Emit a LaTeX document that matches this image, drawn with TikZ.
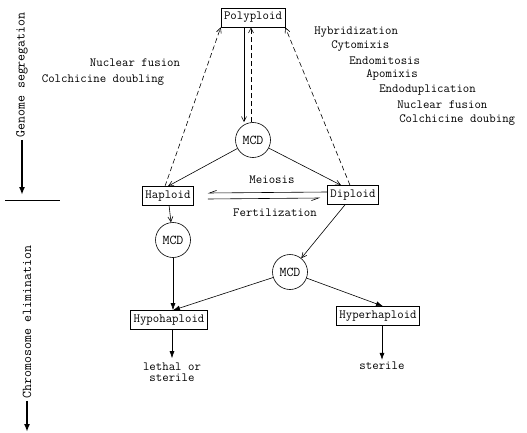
\documentclass[tikz,border=0pt]{standalone}
\usepackage{tikz}
\usetikzlibrary{arrows.meta}

\begin{document}
\begin{tikzpicture}[x=1pt,y=-1pt,semithick,
  every node/.style={inner sep=2pt,font=\ttfamily\fontsize{12.5}{14}\selectfont},
  box/.style={draw,inner xsep=3pt,minimum height=19pt},
  mcd/.style={draw,circle,inner sep=0pt,minimum size=35pt,font=\ttfamily\fontsize{13.5}{15}\selectfont},
  side/.style={font=\ttfamily\fontsize{13.5}{15}\selectfont},
  dashes/.style={dash pattern=on 5pt off 3pt},
  thin/.style={-{Straight Barb[length=5pt,width=5pt]}},
  solid/.style={-{Latex[length=7pt,width=5pt]}}]
\useasboundingbox (0,0) rectangle (527,433);
\node[box] (poly) at (253,17.5) {Polyploid};
\node[mcd] (mcdtop) at (253,140) {MCD};
\node[box] (hap) at (168,196) {Haploid};
\node[box] (dip) at (353,195) {Diploid};
\node[mcd] (mcdleft) at (173,240) {MCD};
\node[mcd] (mcdright) at (290,272) {MCD};
\node[box] (hypo) at (169,320) {Hypohaploid};
\node[box] (hyper) at (378,316) {Hyperhaploid};
\node (lethal) at (172,373) {\begin{tabular}{@{}c@{}}lethal or\\[-3pt] sterile\end{tabular}};
\node (sterile) at (382,366) {sterile};
% labels
\node (meiosis) at (272,180) {Meiosis};
\node (fert) at (275,213) {Fertilization};
\node (nucfus) at (135,63) {Nuclear fusion};
\node (colch) at (103,80) {Colchicine doubling};
\node[anchor=west] (hybrid) at (312,32) {Hybridization};
\node[anchor=west] (cyto) at (329,46) {Cytomixis};
\node[anchor=west] (endomit) at (347,61) {Endomitosis};
\node[anchor=west] (apo) at (364,75) {Apomixis};
\node[anchor=west] (endodup) at (377,90) {Endoduplication};
\node[anchor=west] (nucfustwo) at (395,105) {Nuclear fusion};
\node[anchor=west] (colchtwo) at (397,120) {Colchicine doubing};
% side axis
\node[side,rotate=90] (genseg) at (22,75) {Genome segregation};
\coordinate (segend) at (22,195);
\coordinate (splitl) at (5,200);
\coordinate (splitr) at (60,200);
\node[side,rotate=90] (chrelim) at (27,322) {Chromosome elimination};
\coordinate (elimend) at (27,432);
\draw[line width=1.8pt,-{Latex[length=8pt,width=6pt]}] (genseg.west)--(segend);
\draw (splitl)--(splitr);
\draw[line width=1.8pt,-{Latex[length=8pt,width=6pt]}] (chrelim.west)--(elimend);
% connectors
\draw[thin] ([xshift=-9pt]poly.south)--([xshift=-9pt]mcdtop.north);
\draw[thin,dashes] ([xshift=-2pt]mcdtop.north)--([xshift=-2pt]poly.south);
\draw[thin] (mcdtop)--(hap.north);
\draw[thin] (mcdtop)--([xshift=-12pt]dip.north);
\draw[thin,dashes] ([xshift=-3pt]hap.north)--(poly.south west);
\draw[thin,dashes] ([xshift=-3pt]dip.north)--(poly.south east);
\draw[-{Straight Barb[right,length=7pt,width=5pt]}] ([yshift=3pt]dip.west)--([yshift=3pt,xshift=14pt]hap.east);
\draw[-{Straight Barb[right,length=7pt,width=5pt]}] ([yshift=-3pt,xshift=14pt]hap.east)--([yshift=-3pt,xshift=-7pt]dip.west);
\draw[thin] (hap)--(mcdleft);
\draw[solid] (mcdleft)--(hypo.north -| mcdleft);
\draw[thin] ([xshift=-8pt]dip.south)--(mcdright);
\draw[solid] (mcdright)--(hypo.north -| mcdleft);
\draw[solid] (mcdright)--([xshift=5pt]hyper.north);
\draw[solid] (hypo.south -| lethal)--(lethal.north);
\draw[solid] (hyper.south -| sterile)--(sterile.north);
\end{tikzpicture}
\end{document}
